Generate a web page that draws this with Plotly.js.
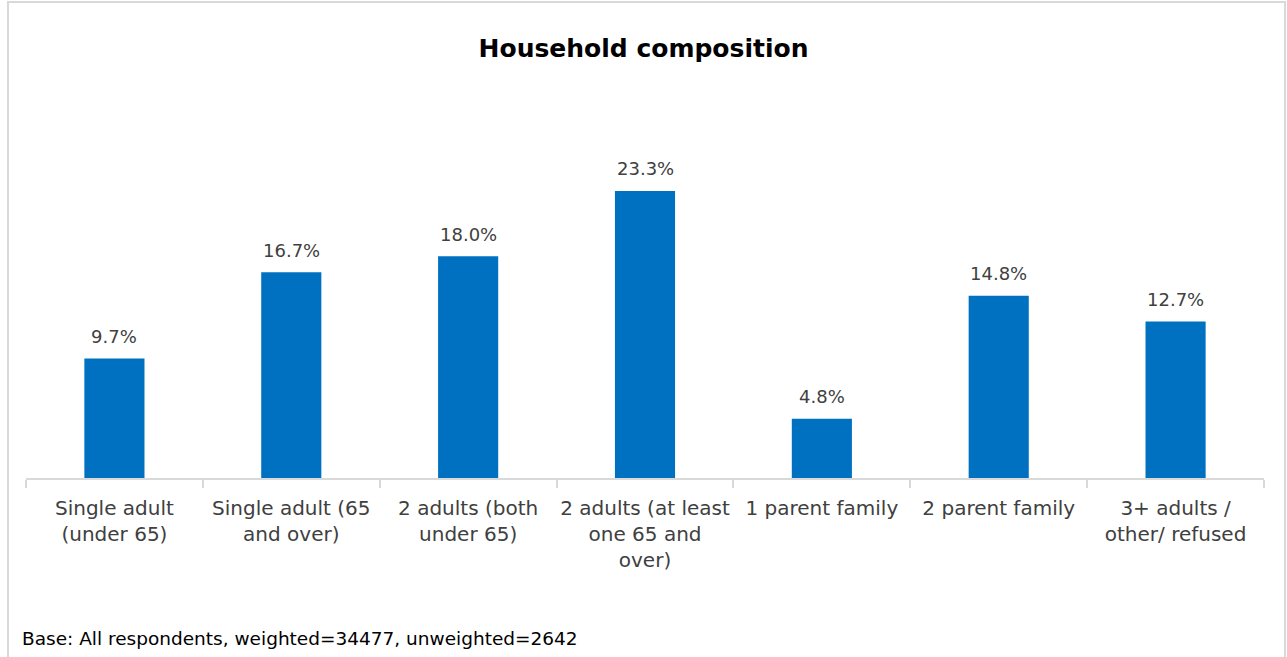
<!DOCTYPE html>
<html><head><meta charset="utf-8">
<script src="https://cdn.plot.ly/plotly-3.0.1.min.js"></script>
<style>html,body{margin:0;padding:0;background:#fff;}#chart{width:1287px;height:657px;}</style>
</head><body><div id="chart"></div>
<script>
const categories = [
  "Single adult<br>(under 65)",
  "Single adult (65<br>and over)",
  "2 adults (both<br>under 65)",
  "2 adults (at least<br>one 65 and<br>over)",
  "1 parent family",
  "2 parent family",
  "3+ adults /<br>other/ refused"
];
const values = [9.7, 16.7, 18.0, 23.3, 4.8, 14.8, 12.7];
const valueLabels = values.map(v => v.toFixed(1) + "%");
const footnote = "Base: All respondents, weighted=34477, unweighted=2642";

const W = 1287, H = 657;
const L = 26, R = 23, T = 170, B = 179;
const pw = W - L - R, ph = H - T - B;
const FONT = "DejaVu Sans, sans-serif";

const trace = {
  type: "bar",
  x: categories,
  y: values,
  marker: {color: "#0070C0"},
  width: 0.34,
  hoverinfo: "skip"
};

const labelAnnotations = categories.map((c, i) => ({
  x: c, y: values[i], xref: "x", yref: "y",
  text: valueLabels[i], showarrow: false,
  xanchor: "center", yanchor: "middle", yshift: 22,
  font: {family: FONT, size: 18, color: "#404040"}
}));

const layout = {
  width: W, height: H,
  margin: {l: L, r: R, t: T, b: B},
  paper_bgcolor: "#ffffff",
  plot_bgcolor: "#ffffff",
  showlegend: false,
  title: {
    text: "<b>Household composition</b>",
    font: {family: FONT, size: 25, color: "#000000"},
    x: 0.5, xanchor: "center",
    y: 1 - 48 / H, yanchor: "middle", yref: "container"
  },
  xaxis: {
    type: "category",
    showline: true, linecolor: "#d9d9d9", linewidth: 2,
    ticks: "outside", tickson: "boundaries", ticklen: 8, tickcolor: "#d9d9d9", tickwidth: 2,
    ticklabelstandoff: 11,
    tickangle: 0,
    tickfont: {family: FONT, size: 20, color: "#404040"},
    showgrid: false, zeroline: false, fixedrange: true
  },
  yaxis: {
    range: [0, 25],
    visible: false, showgrid: false, zeroline: false, fixedrange: true
  },
  shapes: [{
    type: "rect", xref: "paper", yref: "paper",
    x0: (8 - L) / pw, x1: (1285 - L) / pw,
    y0: (H - T - 700) / ph, y1: (H - T - 11) / ph,
    line: {color: "#d9d9d9", width: 2}, fillcolor: "rgba(0,0,0,0)", layer: "below"
  }],
  annotations: labelAnnotations.concat([{
    text: footnote, xref: "paper", yref: "paper",
    x: (20 - L) / pw, y: (478 - 638) / ph,
    xanchor: "left", yanchor: "middle", showarrow: false,
    font: {family: FONT, size: 18.5, color: "#000000"}
  }])
};

Plotly.newPlot("chart", [trace], layout, {displayModeBar: false, staticPlot: true});
</script>
</body></html>
